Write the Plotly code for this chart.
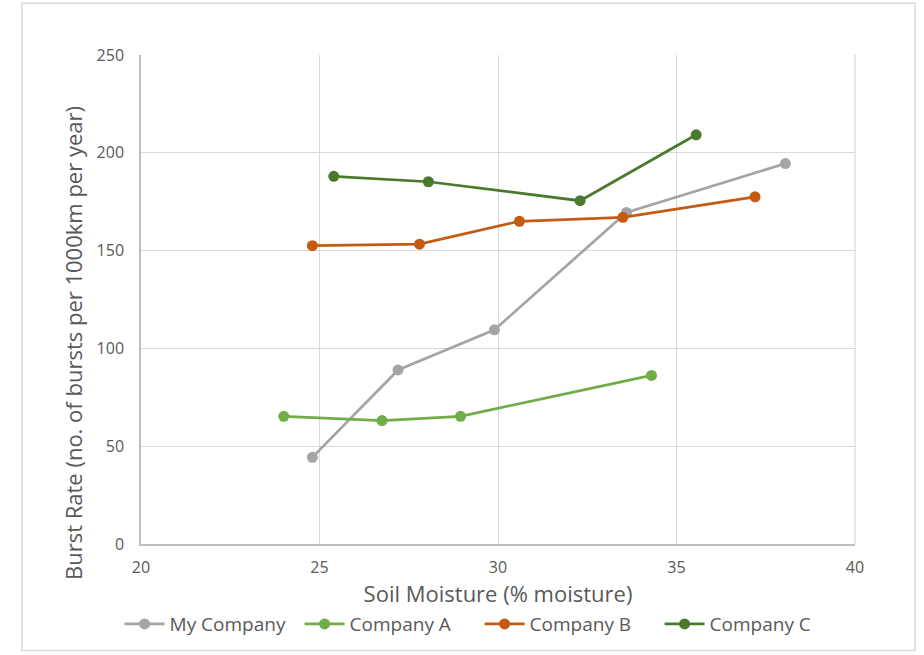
import plotly.graph_objects as go

# Soil moisture (%) vs. burst rate (bursts per 1000 km per year)
my_x = [24.8, 27.2, 29.9, 33.6, 38.05]
my_y = [44.3, 89.0, 109.5, 169.5, 194.5]

a_x = [24.0, 26.75, 28.95, 34.3]
a_y = [65.3, 63.1, 65.3, 86.2]

b_x = [24.8, 27.8, 30.6, 33.5, 37.2]
b_y = [152.5, 153.3, 165.0, 167.0, 177.5]

c_x = [25.4, 28.05, 32.3, 35.55]
c_y = [188.0, 185.2, 175.5, 209.2]

series = [
    ("My Company", my_x, my_y, "#A5A5A5"),
    ("Company A", a_x, a_y, "#70AD47"),
    ("Company B", b_x, b_y, "#C55A11"),
    ("Company C", c_x, c_y, "#4B7A2D"),
]

fig = go.Figure()
for name, xs, ys, col in series:
    fig.add_trace(go.Scatter(
        x=xs, y=ys, name=name, mode="lines+markers",
        line=dict(color=col, width=2.75),
        marker=dict(color=col, size=11),
    ))

font_family = "'Open Sans', sans-serif"
text_col = "#595959"
fig.update_layout(
    width=924, height=655,
    margin=dict(l=141, r=69, t=55, b=109),
    paper_bgcolor="white", plot_bgcolor="white",
    font=dict(family=font_family, color=text_col),
    showlegend=True,
    legend=dict(orientation="h", x=-0.03, xanchor="left", y=-0.125, yanchor="top",
                font=dict(size=19, color=text_col), itemwidth=40,
                entrywidth=125, entrywidthmode="pixels"),
    xaxis=dict(range=[20, 40], dtick=5, showgrid=True, gridcolor="#D9D9D9", gridwidth=1.3,
               zeroline=False, showline=True, linecolor="#BFBFBF", linewidth=1.5,
               ticks="", tickfont=dict(size=16, color=text_col), ticklabelstandoff=8,
               title=dict(text="Soil Moisture (% moisture)", font=dict(size=22, color=text_col),
                          standoff=8)),
    yaxis=dict(range=[0, 250], dtick=50, showgrid=True, gridcolor="#D9D9D9", gridwidth=1.3,
               zeroline=False, showline=True, linecolor="#BFBFBF", linewidth=1.5,
               ticks="", tickfont=dict(size=16, color=text_col), ticklabelstandoff=12),
    annotations=[
        dict(text="Burst Rate (no. of bursts per 1000km per year)", textangle=-90,
             xref="paper", yref="paper", x=-0.0952, y=0.411,
             xanchor="center", yanchor="middle", showarrow=False,
             font=dict(size=22, color=text_col)),
    ],
    shapes=[
        # outer chart-area border
        dict(type="rect", xref="paper", yref="paper",
             x0=-0.1667, x1=1.084, y0=-0.218, y1=1.106,
             line=dict(color="#D9D9D9", width=1.5), fillcolor="rgba(0,0,0,0)", layer="below"),
        # right edge of plot area
        dict(type="line", xref="paper", yref="paper", x0=1, x1=1, y0=0, y1=1,
             line=dict(color="#D9D9D9", width=1.3), layer="below"),
    ],
)

fig.write_html("out.html")
